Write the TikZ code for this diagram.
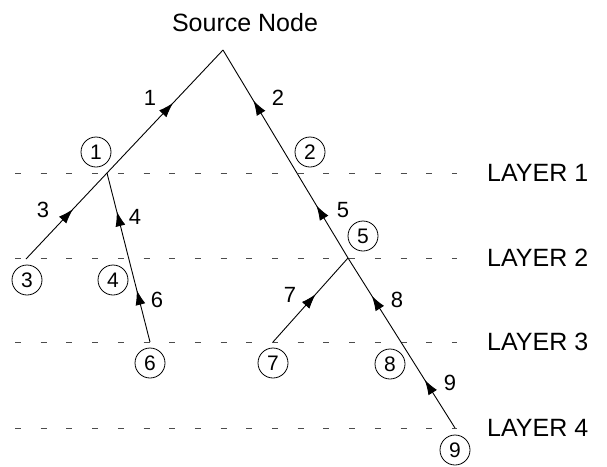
\documentclass[tikz,border=0pt]{standalone}
\usepackage{fontspec}
\setmainfont{Liberation Sans}
\usetikzlibrary{arrows.meta,decorations.markings}
\tikzset{
  layerline/.style={line width=1pt, black!70, dash pattern=on 6pt off 19.7pt},
  edge/.style={line width=0.9pt},
  circnum/.style={circle, draw, line width=0.8pt, minimum size=30pt, inner sep=0pt,
                  font=\fontsize{21}{21}\selectfont},
  elabel/.style={font=\fontsize{22}{22}\selectfont},
  layerlabel/.style={anchor=west, inner sep=0pt, font=\fontsize{25}{25}\selectfont},
  arrowat/.style={postaction={decorate},
    decoration={markings, mark=at position #1 with {\arrow{Latex[length=15pt,width=10pt]}}}}
}
\begin{document}
\begin{tikzpicture}[x=1pt, y=-1pt]
  \path[use as bounding box] (0,0) rectangle (607,466);

  % layers
  \foreach \name/\y/\txt in {L1/173/LAYER 1, L2/258/LAYER 2, L3/342/LAYER 3, L4/428/LAYER 4} {
    \coordinate (\name a) at (15,\y);
    \coordinate (\name b) at (457,\y);
    \draw[layerline] (\name a) -- (\name b);
    \node[layerlabel] (\name lab) at (487,\y) {\txt};
  }

  % source and tree points
  \node[font=\fontsize{25}{25}\selectfont] (source) at (245,23) {Source Node};
  \coordinate (apex) at (223,50);
  \coordinate (p1) at (107,173);
  \coordinate (p2) at (296.9,173);
  \coordinate (p3) at (26,259);
  \coordinate (p4) at (128.6,258);
  \coordinate (p5) at (348,258);
  \coordinate (p6) at (150,342);
  \coordinate (p7) at (273,342);
  \coordinate (p8) at (400.9,342);
  \coordinate (p9) at (455,428);

  % links, each pointing toward the source
  \draw[edge, arrowat=0.57] (p1) -- (apex);
  \draw[edge, arrowat=0.59] (p2) -- (apex);
  \draw[edge, arrowat=0.58] (p3) -- (p1);
  \draw[edge, arrowat=0.55] (p4) -- (p1);
  \draw[edge, arrowat=0.62] (p5) -- (p2);
  \draw[edge, arrowat=0.62] (p6) -- (p4);
  \draw[edge, arrowat=0.57] (p7) -- (p5);
  \draw[edge, arrowat=0.55] (p8) -- (p5);
  \draw[edge, arrowat=0.56] (p9) -- (p8);

  % link numbers
  \node[elabel] (e1) at (150,98) {1};
  \node[elabel] (e2) at (278,98) {2};
  \node[elabel] (e3) at (43,210) {3};
  \node[elabel] (e4) at (135,217) {4};
  \node[elabel] (e5) at (343,210) {5};
  \node[elabel] (e6) at (157,300) {6};
  \node[elabel] (e7) at (290,295) {7};
  \node[elabel] (e8) at (397,300) {8};
  \node[elabel] (e9) at (450,383) {9};

  % node numbers
  \node[circnum] (c1) at (96,152) {1};
  \node[circnum] (c2) at (310,152) {2};
  \node[circnum] (c3) at (27,280) {3};
  \node[circnum] (c4) at (113,280) {4};
  \node[circnum] (c5) at (363,236) {5};
  \node[circnum] (c6) at (150,363) {6};
  \node[circnum] (c7) at (273,363) {7};
  \node[circnum] (c8) at (390,364) {8};
  \node[circnum] (c9) at (455,450) {9};
\end{tikzpicture}
\end{document}
